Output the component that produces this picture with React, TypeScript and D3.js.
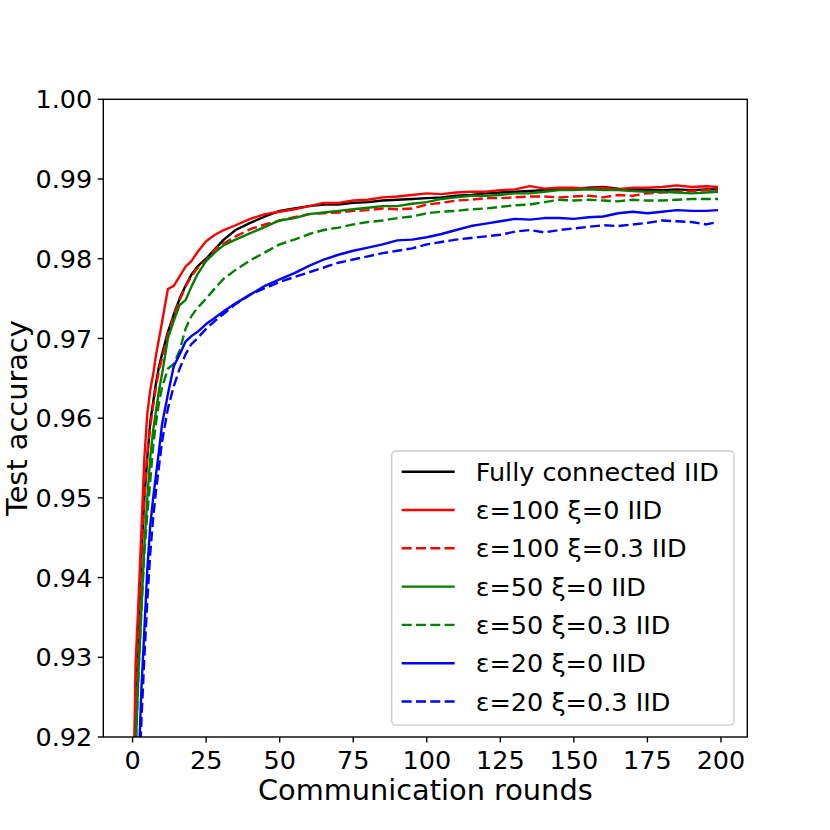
import * as d3 from "d3"

const rounds = [
  0, 1, 2, 3, 4, 5, 6, 7, 8, 9, 10, 12, 14, 16, 18, 20, 22, 25, 28, 31, 35, 40, 45, 50, 55, 60, 65, 70,
  75, 80, 85, 90, 95, 100, 105, 110, 115, 120, 125, 130, 135, 140, 145, 150, 155, 160, 165, 170, 175,
  180, 185, 190, 195, 199,
]

const fullyConnected = [
  0.9, 0.925, 0.934, 0.943, 0.95, 0.955, 0.9595, 0.962, 0.9645, 0.9665, 0.968, 0.9708, 0.973, 0.975,
  0.9766, 0.978, 0.979, 0.98, 0.9812, 0.9824, 0.9836, 0.9845, 0.9853, 0.986, 0.9863, 0.9866, 0.9868,
  0.9868, 0.987, 0.9871, 0.9873, 0.9874, 0.9875, 0.9876, 0.9877, 0.9879, 0.988, 0.9882, 0.9883,
  0.9884, 0.9885, 0.9886, 0.9887, 0.9888, 0.9889, 0.989, 0.9888, 0.9887, 0.9886, 0.9886, 0.9887,
  0.9886, 0.9887, 0.9887,
]

const eps100Xi0 = [
  0.905, 0.929, 0.937, 0.946, 0.955, 0.9605, 0.9635, 0.9655, 0.968, 0.97, 0.972, 0.9762, 0.9766,
  0.9778, 0.979, 0.9797, 0.9808, 0.9822, 0.983, 0.9836, 0.9842, 0.985, 0.9856, 0.9859, 0.9862, 0.9866,
  0.987, 0.987, 0.9873, 0.9874, 0.9877, 0.9878, 0.988, 0.9882, 0.9881, 0.9883, 0.9884, 0.9884, 0.9886,
  0.9887, 0.9891, 0.9888, 0.9889, 0.9889, 0.9888, 0.9889, 0.9887, 0.9889, 0.9889, 0.989, 0.9892,
  0.989, 0.9891, 0.989,
]

const eps100Xi03 = [
  0.9, 0.923, 0.934, 0.943, 0.95, 0.9555, 0.959, 0.9615, 0.964, 0.966, 0.9675, 0.9705, 0.9728, 0.9748,
  0.9765, 0.9778, 0.9788, 0.9798, 0.9812, 0.9819, 0.9828, 0.9837, 0.9843, 0.9848, 0.9852, 0.9856,
  0.9857, 0.9858, 0.986, 0.9861, 0.9863, 0.9862, 0.9863, 0.9868, 0.987, 0.9873, 0.9874, 0.9876,
  0.9876, 0.9877, 0.9878, 0.9878, 0.9877, 0.9878, 0.9879, 0.9877, 0.988, 0.9879, 0.9882, 0.9883,
  0.9884, 0.9885, 0.9886, 0.9886,
]

const eps50Xi0 = [
  0.9, 0.918, 0.928, 0.936, 0.944, 0.95, 0.955, 0.9585, 0.961, 0.9635, 0.9655, 0.97, 0.9722, 0.9742,
  0.9748, 0.9765, 0.978, 0.9797, 0.9808, 0.9817, 0.9824, 0.9832, 0.984, 0.9848, 0.9851, 0.9856,
  0.9858, 0.986, 0.9862, 0.9864, 0.9866, 0.9866, 0.9869, 0.9871, 0.9875, 0.9877, 0.9879, 0.9879,
  0.988, 0.9882, 0.9882, 0.9884, 0.9886, 0.9886, 0.9887, 0.9886, 0.9886, 0.9885, 0.9884, 0.9884,
  0.9883, 0.9882, 0.9883, 0.9884,
]

const eps50Xi03 = [
  0.9, 0.918, 0.928, 0.936, 0.943, 0.948, 0.952, 0.9565, 0.9595, 0.962, 0.9638, 0.9662, 0.9668,
  0.9685, 0.9712, 0.9728, 0.9738, 0.975, 0.9763, 0.9775, 0.9786, 0.9798, 0.9808, 0.9818, 0.9824,
  0.9831, 0.9836, 0.9839, 0.9843, 0.9846, 0.9848, 0.9851, 0.9853, 0.9857, 0.9859, 0.986, 0.9862,
  0.9863, 0.9865, 0.9867, 0.9868, 0.9871, 0.9874, 0.9873, 0.9874, 0.9873, 0.9872, 0.9874, 0.9873,
  0.9873, 0.9874, 0.9875, 0.9875, 0.9875,
]

const eps20Xi0 = [
  0.88, 0.9, 0.916, 0.926, 0.9334, 0.941, 0.9465, 0.95, 0.953, 0.956, 0.9592, 0.963, 0.9665, 0.968,
  0.9696, 0.9703, 0.9708, 0.9718, 0.9726, 0.9734, 0.9744, 0.9755, 0.9766, 0.9774, 0.9782, 0.9791,
  0.9799, 0.9805, 0.981, 0.9814, 0.9818, 0.9823, 0.9824, 0.9827, 0.9831, 0.9836, 0.9841, 0.9844,
  0.9847, 0.985, 0.9849, 0.9851, 0.9851, 0.985, 0.9852, 0.9853, 0.9857, 0.9859, 0.9857, 0.9859,
  0.9861, 0.986, 0.986, 0.9861,
]

const eps20Xi03 = [
  0.88, 0.898, 0.913, 0.922, 0.93, 0.937, 0.943, 0.9475, 0.951, 0.954, 0.957, 0.9612, 0.964, 0.9662,
  0.968, 0.9693, 0.97, 0.9712, 0.9722, 0.9731, 0.9743, 0.9755, 0.9763, 0.9771, 0.9777, 0.9783,
  0.9789, 0.9795, 0.9799, 0.9803, 0.9807, 0.981, 0.9813, 0.9818, 0.9821, 0.9824, 0.9826, 0.9828,
  0.983, 0.9834, 0.9836, 0.9833, 0.9836, 0.9838, 0.984, 0.9842, 0.9841, 0.9843, 0.9845, 0.9848,
  0.9847, 0.9846, 0.9843, 0.9846,
]

const xTicks = [0, 25, 50, 75, 100, 125, 150, 175, 200]
const yTicks = [0.92, 0.93, 0.94, 0.95, 0.96, 0.97, 0.98, 0.99, 1.0]

const series = [
  { label: "Fully connected IID", values: fullyConnected, color: "#000000", dashed: false },
  { label: "ε=100 ξ=0 IID", values: eps100Xi0, color: "#ff0000", dashed: false },
  { label: "ε=100 ξ=0.3 IID", values: eps100Xi03, color: "#ff0000", dashed: true },
  { label: "ε=50 ξ=0 IID", values: eps50Xi0, color: "#008000", dashed: false },
  { label: "ε=50 ξ=0.3 IID", values: eps50Xi03, color: "#008000", dashed: true },
  { label: "ε=20 ξ=0 IID", values: eps20Xi0, color: "#0000ff", dashed: false },
  { label: "ε=20 ξ=0.3 IID", values: eps20Xi03, color: "#0000ff", dashed: true },
]

const W = 830
const H = 830
const margin = { top: 99.3, right: 82.7, bottom: 93, left: 103.3 }
const font = "'DejaVu Sans', sans-serif"

export default function App() {
  const innerW = W - margin.left - margin.right
  const innerH = H - margin.top - margin.bottom

  const x = d3.scaleLinear().domain([-9.95, 208.95]).range([margin.left, margin.left + innerW])
  const y = d3.scaleLinear().domain([0.92, 1.0]).range([margin.top + innerH, margin.top])

  const line = d3
    .line<number>()
    .x((_, i) => x(rounds[i]))
    .y((d) => y(d))

  // legend placement (upper-left corner of the frame, row pitch)
  const lgX = 391.7
  const lgY = 451
  const lgW = 342.3
  const rowH = 38.3
  const lgH = rowH * series.length + 6

  return (
    <svg
      width={W}
      height={H}
      style={{ position: "absolute", left: 0, top: 0, background: "#fff" }}
      fontFamily={font}
    >
      <defs>
        <clipPath id="plot-clip">
          <rect x={margin.left} y={margin.top} width={innerW} height={innerH} />
        </clipPath>
      </defs>

      {/* data lines */}
      <g clipPath="url(#plot-clip)">
        {series.map((s) => (
          <path
            key={s.label}
            d={line(s.values) || ""}
            fill="none"
            stroke={s.color}
            strokeWidth={2.4}
            strokeDasharray={s.dashed ? "10,4.3" : undefined}
            strokeLinejoin="round"
          />
        ))}
      </g>

      {/* frame */}
      <rect
        x={margin.left}
        y={margin.top}
        width={innerW}
        height={innerH}
        fill="none"
        stroke="#000"
        strokeWidth={1.4}
      />

      {/* x axis */}
      {xTicks.map((t) => (
        <g key={t} transform={`translate(${x(t)},${margin.top + innerH})`}>
          <line y2={5.5} stroke="#000" strokeWidth={1.4} />
          <text y={32} textAnchor="middle" fontSize={25.5} fill="#000">
            {t}
          </text>
        </g>
      ))}

      {/* y axis */}
      {yTicks.map((t) => (
        <g key={t} transform={`translate(${margin.left},${y(t)})`}>
          <line x2={-5.5} stroke="#000" strokeWidth={1.4} />
          <text x={-11} dy="0.36em" textAnchor="end" fontSize={25.5} fill="#000">
            {t.toFixed(2)}
          </text>
        </g>
      ))}

      <text x={margin.left + innerW / 2} y={800} textAnchor="middle" fontSize={28.8} fill="#000">
        Communication rounds
      </text>
      <text
        transform={`translate(27,${margin.top + innerH / 2}) rotate(-90)`}
        textAnchor="middle"
        fontSize={28.8}
        fill="#000"
      >
        Test accuracy
      </text>

      {/* legend */}
      <rect
        x={lgX}
        y={lgY}
        width={lgW}
        height={lgH}
        rx={4}
        fill="#fff"
        fillOpacity={0.8}
        stroke="#cccccc"
        strokeWidth={1.4}
      />
      {series.map((s, i) => {
        const cy = lgY + 20.7 + i * rowH
        return (
          <g key={s.label}>
            <line
              x1={lgX + 10}
              x2={lgX + 63}
              y1={cy}
              y2={cy}
              stroke={s.color}
              strokeWidth={2.4}
              strokeDasharray={s.dashed ? "10,4.3" : undefined}
            />
            <text x={lgX + 84} y={cy} dy="0.36em" fontSize={25.5} fill="#000">
              {s.label}
            </text>
          </g>
        )
      })}
    </svg>
  )
}
